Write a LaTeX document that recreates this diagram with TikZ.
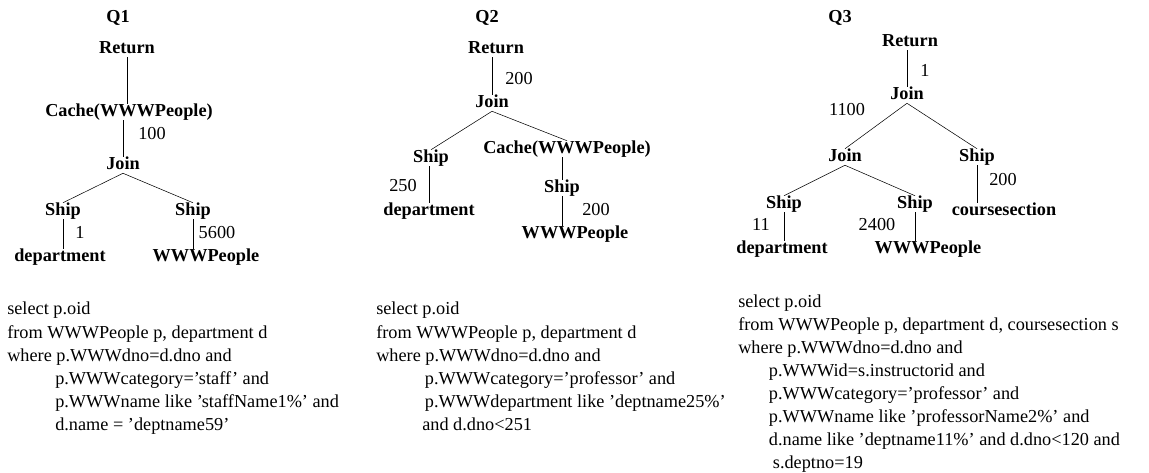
\documentclass[tikz,border=0pt]{standalone}
\usepackage{fontspec}
\setmainfont{Liberation Serif}
\usepackage{tikz}
\newcommand{\plansize}{\fontsize{13.7}{17.4}\selectfont}
\tikzset{
  op/.style={font=\plansize\bfseries, anchor=base, inner sep=0pt, text height=9pt, text depth=3pt},
  card/.style={font=\plansize, anchor=base, inner sep=0pt},
  sql/.style={font=\plansize, anchor=north west, align=left, inner sep=0pt}
}

\begin{document}
\begin{tikzpicture}[x=0.75pt,y=-0.75pt]
\useasboundingbox (0,0) rectangle (1149,472);

% Q1
\node[op] (a-q) at (118,22) {Q1};
\node[op] (a-ret) at (127,53) {Return};
\node[op] (a-cache) at (129,116) {Cache(WWWPeople)};
\node[op] (a-join) at (123,169) {Join};
\node[op] (a-shipl) at (63,215) {Ship};
\node[op] (a-shipr) at (193,215) {Ship};
\node[op] (a-dept) at (60,261) {department};
\node[op] (a-people) at (206,261) {WWWPeople};
\node[card] (a-n1) at (152,139) {100};
\node[card] (a-n2) at (80,238) {1};
\node[card] (a-n3) at (217,238) {5600};
\draw (a-ret.south) -- (a-ret.south |- a-cache.north);
\draw (a-join.north |- a-cache.south) -- (a-join.north);
\draw (a-join.south) -- (a-shipl.north);
\draw (a-join.south) -- (a-shipr.north);
\draw (a-shipl.south) -- (a-shipl.south |- a-dept.north);
\draw (a-shipr.south) -- (a-shipr.south |- a-people.north);

% Q2
\node[op] (b-q) at (487,22) {Q2};
\node[op] (b-ret) at (496,53) {Return};
\node[op] (b-join) at (492,107) {Join};
\node[op] (b-ship) at (431,162) {Ship};
\node[op] (b-cache) at (567,153) {Cache(WWWPeople)};
\node[op] (b-dept) at (429,215) {department};
\node[op] (b-shipc) at (562,192) {Ship};
\node[op] (b-people) at (575,238) {WWWPeople};
\node[card] (b-n1) at (519,84) {200};
\node[card] (b-n2) at (403,191) {250};
\node[card] (b-n3) at (596,215) {200};
\draw (b-join.north |- b-ret.south) -- (b-join.north);
\draw (b-join.south) -- (b-ship.north);
\draw (b-join.south) -- (b-cache.north);
\draw (b-dept.north |- b-ship.south) -- (b-dept.north);
\draw (b-shipc.north |- b-cache.south) -- (b-shipc.north);
\draw (b-shipc.south) -- (b-shipc.south |- b-people.north);

% Q3
\node[op] (c-q) at (840,22) {Q3};
\node[op] (c-ret) at (910,46) {Return};
\node[op] (c-join) at (907,99) {Join};
\node[op] (c-joinl) at (845,161) {Join};
\node[op] (c-shipr) at (977,161) {Ship};
\node[op] (c-shipa) at (784,208) {Ship};
\node[op] (c-shipb) at (915,208) {Ship};
\node[op] (c-course) at (1004,215) {coursesection};
\node[op] (c-dept) at (782,253) {department};
\node[op] (c-people) at (928,253) {WWWPeople};
\node[card] (c-n1) at (925,76) {1};
\node[card] (c-n2) at (847,115) {1100};
\node[card] (c-n3) at (1003,185) {200};
\node[card] (c-n4) at (761,230) {11};
\node[card] (c-n5) at (877,230) {2400};
\draw (c-join.north |- c-ret.south) -- (c-join.north);
\draw (c-join.south) -- (c-joinl.north);
\draw (c-join.south) -- (c-shipr.north);
\draw (c-shipr.south) -- (c-shipr.south |- c-course.north);
\draw (c-joinl.south) -- (c-shipa.north);
\draw (c-joinl.south) -- (c-shipb.north);
\draw (c-shipa.south) -- (c-shipa.south |- c-dept.north);
\draw (c-shipb.south) -- (c-shipb.south |- c-people.north);

% queries
\node[sql] (a-sql) at (7,302) {select p.oid\\
from WWWPeople p, department d\\
where p.WWWdno=d.dno and\\
\hspace*{36pt}p.WWWcategory='staff' and\\
\hspace*{36pt}p.WWWname like 'staffName1\%' and\\
\hspace*{36pt}d.name = 'deptname59'};
\node[sql] (b-sql) at (376,302) {select p.oid\\
from WWWPeople p, department d\\
where p.WWWdno=d.dno and\\
\hspace*{36.5pt}p.WWWcategory='professor' and\\
\hspace*{36.5pt}p.WWWdepartment like 'deptname25\%'\\
\hspace*{34.5pt}and d.dno<251};
\node[sql, font=\fontsize{13.7}{17.2}\selectfont] (c-sql) at (738,295) {select p.oid\\
from WWWPeople p, department d, coursesection s\\
where p.WWWdno=d.dno and\\
\hspace*{23pt}p.WWWid=s.instructorid and\\
\hspace*{23pt}p.WWWcategory='professor' and\\
\hspace*{23pt}p.WWWname like 'professorName2\%' and\\
\hspace*{23pt}d.name like 'deptname11\%' and d.dno<120 and\\
\hspace*{26pt}s.deptno=19};
\end{tikzpicture}
\end{document}
